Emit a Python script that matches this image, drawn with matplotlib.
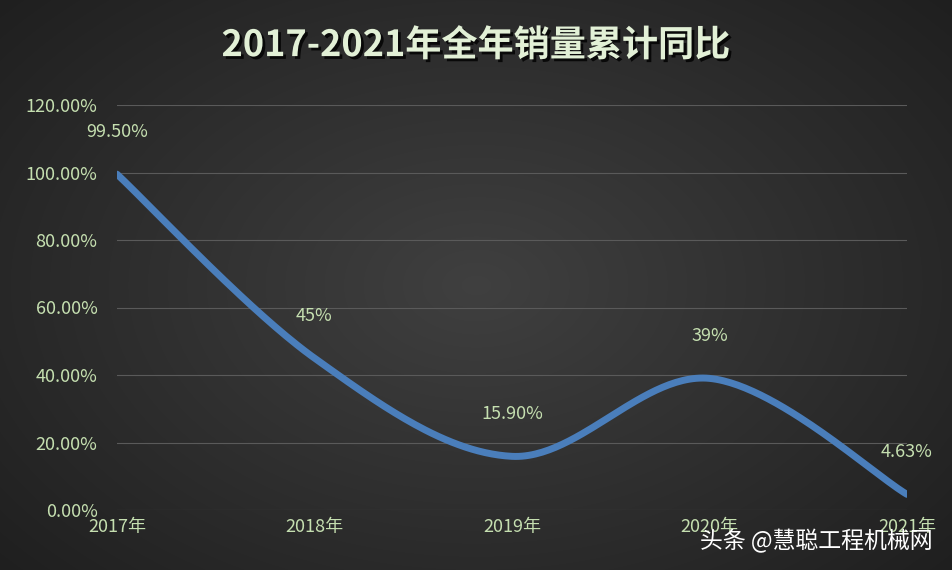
import numpy as np
import matplotlib
matplotlib.use("Agg")
import matplotlib.pyplot as plt
import matplotlib.patheffects as pe

plt.rcParams['font.family'] = ['Noto Sans CJK SC', 'DejaVu Sans']

years = ['2017年', '2018年', '2019年', '2020年', '2021年']
values = [99.5, 45.0, 15.9, 39.0, 4.63]
labels = ['99.50%', '45%', '15.90%', '39%', '4.63%']
yticks = [0, 20, 40, 60, 80, 100, 120]

fig = plt.figure(figsize=(9.52, 5.70), dpi=100)
bg = fig.add_axes([0, 0, 1, 1], zorder=-10)
yy, xx = np.mgrid[0:570, 0:952]
r = np.sqrt(((xx - 476) / 600) ** 2 + ((yy - 285) / 400) ** 2)
shade = np.clip(0.25 - 0.12 * r, 0.09, 0.25)
bg.imshow(np.dstack([shade] * 3), aspect='auto', extent=[0, 1, 0, 1])
bg.axis('off')

ax = fig.add_axes([117 / 952, 60 / 570, 790 / 952, 405 / 570])
ax.set_facecolor('none')
x = np.arange(len(values))

def smooth(px, py, n=60):
    P = np.column_stack([px, py]).astype(float)
    P = np.vstack([P[0], P, P[-1]])
    out = []
    for i in range(1, len(P) - 2):
        p0, p1, p2, p3 = P[i - 1], P[i], P[i + 1], P[i + 2]
        t = np.linspace(0, 1, n)[:, None]
        out.append(0.5 * ((2 * p1) + (-p0 + p2) * t + (2 * p0 - 5 * p1 + 4 * p2 - p3) * t ** 2
                          + (-p0 + 3 * p1 - 3 * p2 + p3) * t ** 3))
    return np.vstack(out)

S = smooth(x, values)
ax.plot(S[:, 0], S[:, 1], color='#4a7ebb', lw=5, solid_capstyle='round')

ax.set_xlim(0, 4)
ax.set_ylim(0, 120)
ax.set_yticks(yticks)
ax.set_yticklabels([f'{v:.2f}%' for v in yticks])
ax.set_xticks(x)
ax.set_xticklabels(years)
ax.grid(axis='y', color='#5a5a5a', lw=0.8)
for s in ax.spines.values():
    s.set_visible(False)
ax.tick_params(length=0, colors='#c5dfb0', labelsize=13)
ax.tick_params(axis='y', pad=14)
ax.tick_params(axis='x', pad=6)

for xi, v, lab in zip(x, values, labels):
    ax.annotate(lab, (xi, v), xytext=(0, 24), textcoords='offset points', ha='center',
                va='bottom', color='#c5dfb0', fontsize=13, annotation_clip=False)

fig.text(0.5, 0.92, '2017-2021年全年销量累计同比', ha='center', va='center', fontsize=26,
         fontweight='bold', color='#e2f0d6',
         path_effects=[pe.withSimplePatchShadow(offset=(2, -2), shadow_rgbFace='black', alpha=0.8)])
fig.text(0.98, 0.05, '头条 @慧聪工程机械网', ha='right', va='center', fontsize=16.5,
         color='white')

fig.savefig('out.png', dpi=100)
